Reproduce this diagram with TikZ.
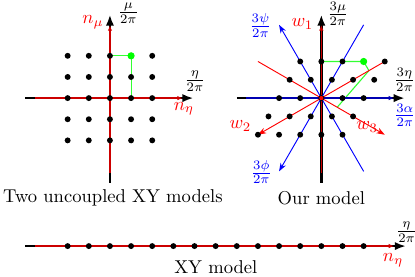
\documentclass[tikz,border=0pt]{standalone}
\usepackage{tikz}
\usetikzlibrary{arrows.meta, positioning}
\tikzset{
    axisline/.style={
        -{Latex[length=6pt,width=4.5pt]},
        line width=1.3pt,
        black
    },
    axisover/.style={
        -{Latex[length=3pt,width=2.4pt]},
        line width=0.8pt,
        #1
    },
    axisover/.default=red!80!black,
    thinarrow/.style={
        -{Stealth[length=4.5pt,width=3.2pt]},
        line width=0.5pt,
        #1
    },
    thinarrow/.default=red,
    projline/.style={
        line width=0.6pt,
        green!80
    },
    latticedot/.style={
        fill=black
    },
    redlabel/.style={
        text=red
    },
    bluelabel/.style={
        text=blue
    }
}

\begin{document}
\begin{tikzpicture}[x=0.4cm, y=0.4cm]
    \useasboundingbox (-5.2,-8.42) rectangle (14.43,4.64);

    % Two uncoupled XY models
    \coordinate (Lwest) at (-4,0);
    \coordinate (Least) at (3.95,0);
    \coordinate (Lsouth) at (0,-4);
    \coordinate (Lnorth) at (0,3.95);
    \coordinate (Lrw) at (-3.55,0);
    \coordinate (Lre) at (3.45,0);
    \coordinate (Lrs) at (0,-3.55);
    \coordinate (Lrn) at (0,3.45);
    \draw[axisline] (Lwest) -- (Least);
    \draw[axisline] (Lsouth) -- (Lnorth);
    \draw[axisover] (Lrw) -- (Lre);
    \draw[axisover] (Lrs) -- (Lrn);

    \coordinate (Lgreen) at (1,2);
    \coordinate (Lproj1) at (0,2);
    \coordinate (Lproj2) at (1,0);
    \draw[projline] (Lproj1) -- (Lgreen) -- (Lproj2);
    \foreach \i in {-2,...,2}
        \foreach \j in {-2,...,2}
            \fill[latticedot] (\i,\j) circle (0.14);
    \fill[green] (Lgreen) circle (0.17);

    \node[redlabel] (Lnmu) at (-0.8,3.57) {$n_\mu$};
    \node (Lmu) at (0.87,4.0) {$\frac{\mu}{2\pi}$};
    \node (Leta) at (4.02,0.8) {$\frac{\eta}{2\pi}$};
    \node[redlabel] (Lneta) at (3.5,-0.5) {$n_\eta$};
    \node (Lcaption) at (0.14,-4.72) {Two uncoupled XY models};

    % Our model
    \begin{scope}[xshift=4cm]
        \coordinate (Rwest) at (-4,0);
        \coordinate (Reast) at (3.95,0);
        \coordinate (Rsouth) at (0,-4);
        \coordinate (Rnorth) at (0,3.95);
        \coordinate (Rbw) at (-3.55,0);
        \coordinate (Rbe) at (3.45,0);
        \coordinate (Rrs) at (0,-3.55);
        \coordinate (Rrn) at (0,3.46);
        \draw[axisline] (Rwest) -- (Reast);
        \draw[axisline] (Rsouth) -- (Rnorth);

        \coordinate (Rgreen) at (2,1.732);
        \coordinate (Rproj1) at (0,1.732);
        \coordinate (Rproj2) at (2.25,1.299);
        \coordinate (Rproj3) at (0.75,-0.433);
        \draw[projline] (Rproj1) -- (Rgreen) -- (Rproj2) -- (Rproj3);

        \coordinate (Rw2start) at (3,1.732);
        \coordinate (Rw2) at (-3,-1.732);
        \coordinate (Rw3start) at (-3,1.732);
        \coordinate (Rw3) at (3,-1.732);
        \coordinate (Rpsistart) at (2,-3.464);
        \coordinate (Rpsi) at (-2,3.464);
        \coordinate (Rphistart) at (2,3.464);
        \coordinate (Rphi) at (-2,-3.464);
        \draw[thinarrow=blue] (Rpsistart) -- (Rpsi);
        \draw[thinarrow=blue] (Rphistart) -- (Rphi);
        \draw[thinarrow] (Rw2start) -- (Rw2);
        \draw[thinarrow] (Rw3start) -- (Rw3);
        \draw[axisover=blue!70!black] (Rbw) -- (Rbe);
        \draw[axisover] (Rrs) -- (Rrn);

        \foreach \m in {-2,...,2}
            \foreach \k in {-2,...,2}
                \fill[latticedot] ({\m+0.5*\k},{0.866*\k}) circle (0.14);
        \fill[green] (Rgreen) circle (0.17);
        \fill[red] (0,0) circle (0.1);

        \node[redlabel] (Rw1label) at (-0.9,3.52) {$w_1$};
        \node (Rmu) at (0.78,4.0) {$\frac{3\mu}{2\pi}$};
        \node[bluelabel] (Rpsilabel) at (-2.88,3.45) {$\frac{3\psi}{2\pi}$};
        \node (Reta) at (3.93,0.85) {$\frac{3\eta}{2\pi}$};
        \node[bluelabel] (Ralpha) at (3.95,-0.8) {$\frac{3\alpha}{2\pi}$};
        \node[redlabel] (Rw2label) at (-3.83,-1.32) {$w_2$};
        \node[redlabel] (Rw3label) at (2.17,-1.37) {$w_3$};
        \node[bluelabel] (Rphilabel) at (-2.84,-3.5) {$\frac{3\phi}{2\pi}$};
        \node (Rcaption) at (0,-4.72) {Our model};
    \end{scope}

    % XY model
    \coordinate (Bwest) at (-4,-7);
    \coordinate (Beast) at (14,-7);
    \coordinate (Brw) at (-3.55,-7);
    \coordinate (Bre) at (13.45,-7);
    \draw[axisline] (Bwest) -- (Beast);
    \draw[axisover] (Brw) -- (Bre);
    \foreach \i in {-2,...,12}
        \fill[latticedot] (\i,-7) circle (0.14);

    \node (Beta) at (14.03,-6.34) {$\frac{\eta}{2\pi}$};
    \node[redlabel] (Bneta) at (13.39,-7.66) {$n_\eta$};
    \node (Bcaption) at (5.01,-7.98) {XY model};
\end{tikzpicture}
\end{document}
